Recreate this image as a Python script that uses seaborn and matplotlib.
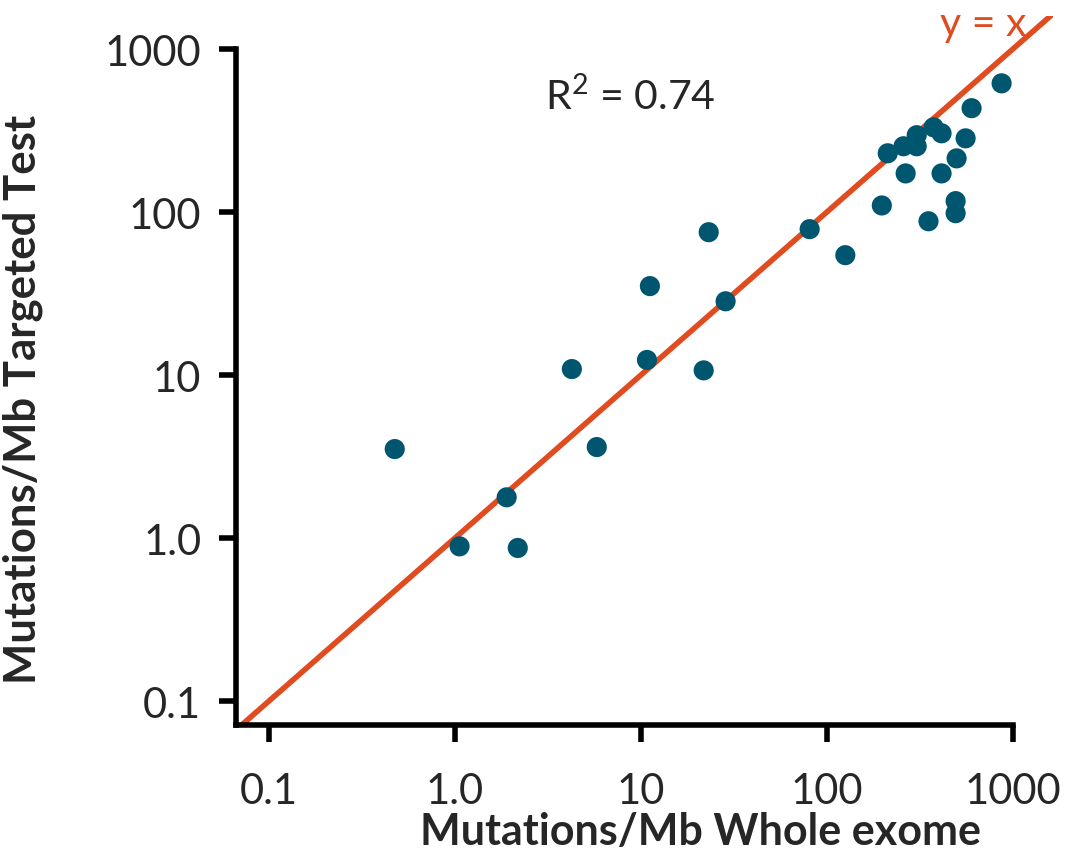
import numpy as np
import pandas as pd
import matplotlib
matplotlib.use("Agg")
import matplotlib.pyplot as plt
import seaborn as sns

# ---- Data ----
whole_exome = [0.475, 1.06, 1.90, 2.18, 4.26, 5.8, 11.2, 10.8, 21.8, 23.2,
               28.6, 81, 126, 198, 213, 259, 266, 305, 305, 376,
               415, 353, 415, 494, 494, 500, 559, 602, 873]
targeted = [3.52, 0.89, 1.78, 0.87, 10.9, 3.62, 35.2, 12.4, 10.7, 75.4,
            28.4, 78.7, 54.5, 110, 230, 254, 173, 254, 297, 332,
            305, 88, 173, 117, 98.6, 214, 284, 435, 618]
tick_values = [0.1, 1, 10, 100, 1000]
tick_labels = ["0.1", "1.0", "10", "100", "1000"]
r2_text = "R$^2$ = 0.74"

POINT_COLOR = "#00566F"
LINE_COLOR = "#E04C1F"

df = pd.DataFrame({"whole": whole_exome, "targeted": targeted})

sns.set_style("ticks")
plt.rcParams["font.family"] = ["Lato", "DejaVu Sans"]
plt.rcParams["mathtext.fontset"] = "custom"
plt.rcParams["mathtext.rm"] = "Lato"

fig = plt.figure(figsize=(10.69, 8.54), dpi=100)
ax = fig.add_axes([236 / 1069, 128 / 854, 817 / 1069, 709 / 854])

xlim = (0.0665, 1650)
ylim = (0.0713, 1600)

# identity line
lo, hi = 0.05, 2000
ax.plot([lo, hi], [lo, hi], color=LINE_COLOR, lw=4.0, zorder=1)

sns.scatterplot(data=df, x="whole", y="targeted", ax=ax, s=210,
                color=POINT_COLOR, edgecolor="none", zorder=2)

ax.set_xscale("log")
ax.set_yscale("log")
ax.set_xlim(*xlim)
ax.set_ylim(*ylim)

ax.set_xticks(tick_values)
ax.set_xticklabels(tick_labels)
ax.set_yticks(tick_values)
ax.set_yticklabels(tick_labels)
ax.minorticks_off()

ax.tick_params(axis="both", which="major", labelsize=30, width=4, length=12,
               color="black", direction="out")
ax.tick_params(axis="x", pad=22)
ax.tick_params(axis="y", pad=13)

for side in ["top", "right"]:
    ax.spines[side].set_visible(False)
for side in ["left", "bottom"]:
    ax.spines[side].set_linewidth(4)
    ax.spines[side].set_color("black")
ax.spines["left"].set_bounds(ylim[0], 1000)
ax.spines["bottom"].set_bounds(xlim[0], 1000)

ax.set_xlabel("Mutations/Mb Whole exome", fontsize=31, fontweight="bold")
ax.set_ylabel("Mutations/Mb Targeted Test", fontsize=31.5, fontweight="bold")
ax.xaxis.set_label_coords(0.568, -0.122)
ax.yaxis.set_label_coords(-0.236, 0.46)

ax.text(0.482, 0.887, r2_text, transform=ax.transAxes, fontsize=29.5,
        ha="center", va="center")
ax.text(0.914, 0.99, "y = x", transform=ax.transAxes, fontsize=29.5,
        ha="center", va="center", color=LINE_COLOR)

fig.savefig("out.png", dpi=100)
